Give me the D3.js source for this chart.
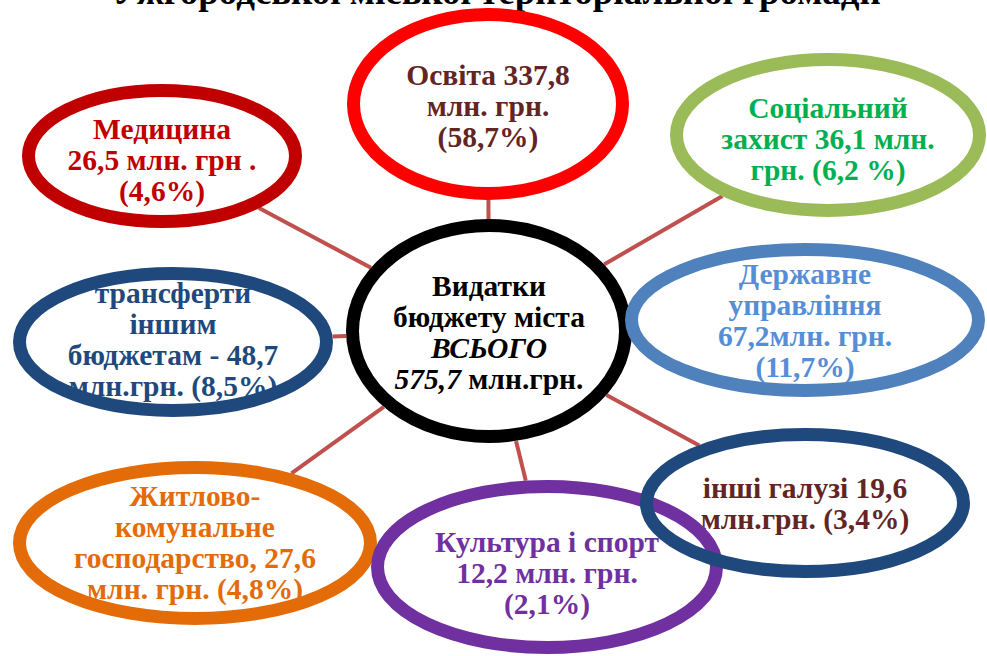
<!DOCTYPE html>
<html>
<head>
<meta charset="utf-8">
<script src="https://cdn.jsdelivr.net/npm/d3@7"></script>
<style>
  body { margin: 0; background: #fff; overflow: hidden; }
</style>
</head>
<body>
<script>
// values
var title = "Ужгородської міської територіальної громади";
var categories = ["Освіта", "Медицина", "Соціальний захист", "Державне управління",
                  "трансферти іншим бюджетам", "Житлово-комунальне господарство",
                  "Культура і спорт", "інші галузі"];
var amounts = [337.8, 26.5, 36.1, 67.2, 48.7, 27.6, 12.2, 19.6];
var shares = [58.7, 4.6, 6.2, 11.7, 8.5, 4.8, 2.1, 3.4];
var total = 575.7;
// how each label is broken into lines, {a} = amount, {s} = share
var labelLines = [
    ["Освіта {a}", "млн. грн.", "({s}%)"],
    ["Медицина", "{a} млн. грн .", "({s}%)"],
    ["Соціальний", "захист {a} млн.", "грн. ({s} %)"],
    ["Державне", "управління", "{a}млн. грн.", "({s}%)"],
    ["трансферти", "іншим", "бюджетам - {a}", "млн.грн. ({s}%)"],
    ["Житлово-", "комунальне", "господарство, {a}", "млн. грн. ({s}%)"],
    ["Культура і спорт", "{a} млн. грн.", "({s}%)"],
    ["інші галузі {a}", "млн.грн. ({s}%)"]
];
var ringColors = ["#FF0000", "#C00000", "#9BBB59", "#4F81BD", "#1F497D", "#E36C09", "#7030A0", "#1F497D"];
var textColors = ["#632523", "#C00000", "#00B050", "#558ED5", "#1F497D", "#E36C09", "#7030A0", "#632523"];

// layout: outer box of every ring (centre x, centre y, half width, half height, text shift)
var layout = [
    [488, 104, 141, 96, 2],
    [162, 156, 140, 72, 4],
    [828, 135, 158, 82, 4],
    [805, 320, 180, 77, 0],
    [173, 342, 160, 75, -3],
    [195, 543, 182, 82, -1],
    [547, 567, 176, 87, 6],
    [805, 503, 165, 75, 0]
];
var hub = [489, 331, 143, 112, 1];

var width = 987, height = 656;
var STROKE = 13, LINE_H = 31, FONT = 29.5;
var FAMILY = "Liberation Serif";

var x = d3.scaleLinear().domain([0, 987]).range([0, width]);
var y = d3.scaleLinear().domain([0, 656]).range([0, height]);
var color = d3.scaleOrdinal().domain(categories).range(ringColors);
var textColor = d3.scaleOrdinal().domain(categories).range(textColors);
var fmt = function(v) { return d3.format(".1f")(v).replace(".", ","); };

var nodes = categories.map(function(c, i) {
    var l = layout[i];
    return {
        name: c, cx: x(l[0]), cy: y(l[1]), rx: x(l[2]), ry: y(l[3]), shift: l[4],
        lines: labelLines[i].map(function(t) {
            return t.replace("{a}", fmt(amounts[i])).replace("{s}", fmt(shares[i]));
        })
    };
});
var centre = { cx: x(hub[0]), cy: y(hub[1]), rx: x(hub[2]), ry: y(hub[3]), shift: hub[4] };

var svg = d3.select("body").append("svg")
    .attr("width", width)
    .attr("height", height);

// title, its top half falls outside the picture
svg.append("text")
    .attr("x", width / 2 + 3)
    .attr("y", 4)
    .attr("text-anchor", "middle")
    .style("font-family", FAMILY)
    .style("font-weight", "bold")
    .style("font-size", "37px")
    .style("fill", "#000")
    .text(title);

// where the ray from an ellipse centre towards (px,py) leaves its outer edge
function edge(n, px, py) {
    var dx = px - n.cx, dy = py - n.cy;
    var t = 1 / Math.sqrt((dx * dx) / (n.rx * n.rx) + (dy * dy) / (n.ry * n.ry));
    return [n.cx + dx * t, n.cy + dy * t];
}

// connectors from the hub to every ring
nodes.forEach(function(n) {
    var a = edge(centre, n.cx, n.cy);
    var b = edge(n, centre.cx, centre.cy);
    svg.append("line")
        .attr("x1", a[0]).attr("y1", a[1])
        .attr("x2", b[0]).attr("y2", b[1])
        .style("stroke", "#C0504D")
        .style("stroke-width", 4);
});

function label(n, count, fill) {
    return svg.append("text")
        .attr("text-anchor", "middle")
        .style("font-family", FAMILY)
        .style("font-weight", "bold")
        .style("font-size", FONT + "px")
        .style("fill", fill)
        .attr("data-top", n.cy + n.shift - (count - 1) * LINE_H / 2 + FONT * 0.34);
}

// labels first, rings drawn over them like in the original
nodes.forEach(function(n) {
    var t = label(n, n.lines.length, textColor(n.name));
    var top = +t.attr("data-top");
    n.lines.forEach(function(l, i) {
        t.append("tspan").attr("x", n.cx).attr("y", top + i * LINE_H).text(l);
    });
});

// hub label with the italic parts
var hubText = label(centre, 4, "#000");
var hubTop = +hubText.attr("data-top");
hubText.append("tspan").attr("x", centre.cx).attr("y", hubTop).text("Видатки");
hubText.append("tspan").attr("x", centre.cx).attr("y", hubTop + LINE_H).text("бюджету міста");
hubText.append("tspan").attr("x", centre.cx).attr("y", hubTop + 2 * LINE_H)
    .style("font-style", "italic").text("ВСЬОГО");
hubText.append("tspan").attr("x", centre.cx).attr("y", hubTop + 3 * LINE_H)
    .style("font-style", "italic").text(fmt(total));
hubText.append("tspan").text(" млн.грн.");

function ring(n, stroke) {
    svg.append("ellipse")
        .attr("cx", n.cx).attr("cy", n.cy)
        .attr("rx", n.rx - STROKE / 2).attr("ry", n.ry - STROKE / 2)
        .style("fill", "none")
        .style("stroke", stroke)
        .style("stroke-width", STROKE);
}

ring(centre, "#000");
nodes.forEach(function(n) { ring(n, color(n.name)); });
</script>
</body>
</html>
